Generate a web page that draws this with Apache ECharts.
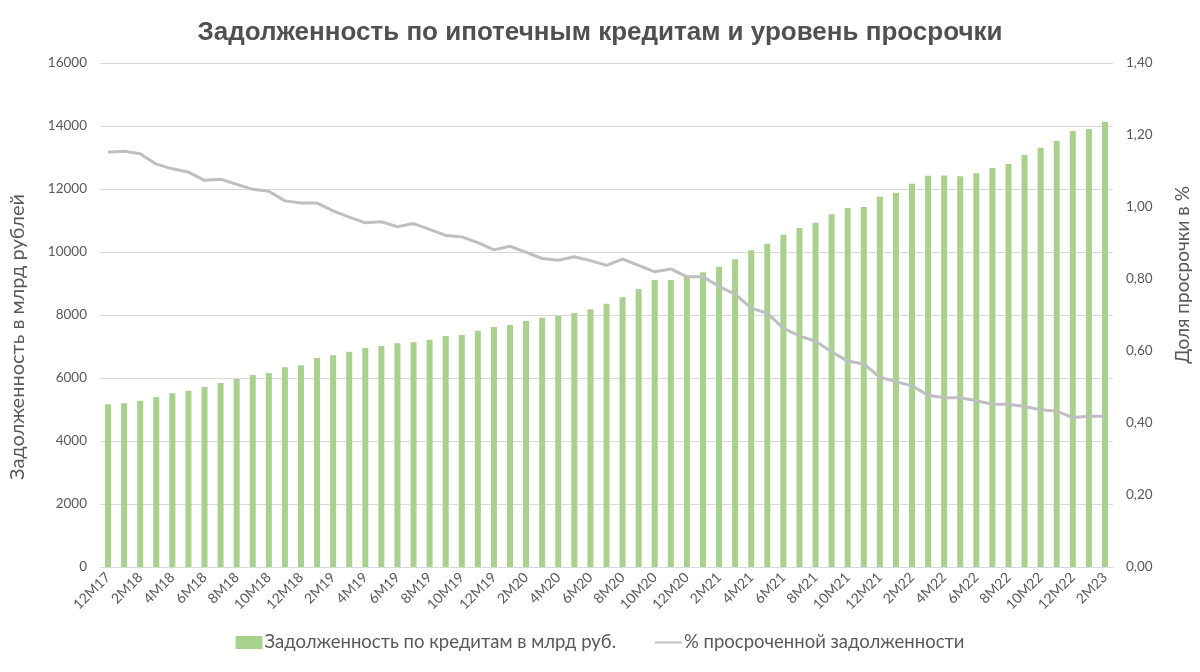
<!DOCTYPE html>
<html>
<head>
<meta charset="utf-8">
<script src="https://cdn.jsdelivr.net/npm/echarts@6/dist/echarts.min.js"></script>
<style>
  html, body { margin: 0; padding: 0; background: #fff; }
  #main { width: 1200px; height: 672px; }
</style>
</head>
<body>
<div id="main"></div>
<script>
// месяцы: 12M17 .. 2M23
const months = [
  '12M17',
  '1M18', '2M18', '3M18', '4M18', '5M18', '6M18', '7M18', '8M18', '9M18', '10M18', '11M18', '12M18',
  '1M19', '2M19', '3M19', '4M19', '5M19', '6M19', '7M19', '8M19', '9M19', '10M19', '11M19', '12M19',
  '1M20', '2M20', '3M20', '4M20', '5M20', '6M20', '7M20', '8M20', '9M20', '10M20', '11M20', '12M20',
  '1M21', '2M21', '3M21', '4M21', '5M21', '6M21', '7M21', '8M21', '9M21', '10M21', '11M21', '12M21',
  '1M22', '2M22', '3M22', '4M22', '5M22', '6M22', '7M22', '8M22', '9M22', '10M22', '11M22', '12M22',
  '1M23', '2M23'
]

// задолженность, млрд руб.
const debt = [
  5165,
  5196, 5280, 5397, 5513, 5598, 5714, 5841, 5968, 6095, 6159, 6339, 6402,
  6635, 6720, 6836, 6952, 7016, 7101, 7133, 7217, 7333, 7365, 7503, 7619,
  7683, 7810, 7915, 7979, 8063, 8180, 8360, 8561, 8825, 9111, 9111, 9217,
  9355, 9534, 9767, 10053, 10265, 10550, 10762, 10931, 11196, 11397, 11429, 11757,
  11873, 12169, 12423, 12430, 12405, 12497, 12667, 12794, 13079, 13312, 13524, 13841,
  13905, 14138
]

// доля просрочки, %
const overdue = [
  1.152,
  1.155, 1.148, 1.119, 1.106, 1.097, 1.074, 1.077, 1.063, 1.049, 1.044, 1.017, 1.011,
  1.011, 0.989, 0.972, 0.956, 0.959, 0.945, 0.954, 0.938, 0.921, 0.917, 0.901, 0.881,
  0.891, 0.874, 0.857, 0.852, 0.862, 0.851, 0.838, 0.855, 0.838, 0.820, 0.828, 0.806,
  0.806, 0.779, 0.758, 0.719, 0.705, 0.663, 0.642, 0.627, 0.598, 0.572, 0.564, 0.527,
  0.515, 0.503, 0.477, 0.470, 0.470, 0.462, 0.452, 0.452, 0.446, 0.437, 0.433, 0.415,
  0.419, 0.419
]

const txtColor = '#595959'
const font = 'Lato'

const myChart = echarts.init(document.getElementById('main'))
myChart.setOption({
  animation: false,
  title: {
    text: 'Задолженность по ипотечным кредитам и уровень просрочки',
    left: 'center',
    top: 15,
    textStyle: {
      fontFamily: 'Liberation Sans',
      fontSize: 26,
      fontWeight: 'bold',
      color: '#505050'
    }
  },
  legend: {
    bottom: 15,
    left: 'center',
    itemGap: 38,
    itemWidth: 27,
    itemHeight: 13,
    textStyle: { fontFamily: font, fontSize: 18.5, color: txtColor, padding: [0, 0, 0, -3] },
    data: [
      { name: 'Задолженность по кредитам в млрд руб.', icon: 'rect' },
      {
        name: '% просроченной задолженности',
        itemStyle: { color: 'rgba(0,0,0,0)', borderWidth: 0 }
      }
    ]
  },
  grid: {
    left: 93,
    right: 83,
    top: 63,
    bottom: 105
  },
  xAxis: {
    type: 'category',
    data: months,
    axisTick: { show: false },
    axisLine: { lineStyle: { color: '#d9d9d9' } },
    axisLabel: {
      interval: 1,
      rotate: 45,
      fontFamily: font,
      fontSize: 14,
      color: txtColor,
      margin: 8
    }
  },
  yAxis: [
    {
      type: 'value',
      min: 0,
      max: 16000,
      interval: 2000,
      name: 'Задолженность в млрд рублей',
      nameLocation: 'middle',
      nameGap: 72,
      nameTextStyle: { fontFamily: font, fontSize: 20, color: txtColor, padding: [0, 44, 0, 0] },
      axisLabel: { fontFamily: font, fontSize: 13.5, color: txtColor, margin: 13, formatter: v => String(v) },
      splitLine: { lineStyle: { color: '#d9d9d9' } }
    },
    {
      type: 'value',
      min: 0,
      max: 1.4,
      interval: 0.2,
      name: 'Доля просрочки в %',
      nameLocation: 'middle',
      nameRotate: 90,
      nameGap: 60,
      nameTextStyle: { fontFamily: font, fontSize: 19, color: txtColor, padding: [0, 0, 0, 80] },
      axisLabel: {
        fontFamily: font,
        fontSize: 13.5,
        color: txtColor,
        margin: 13,
        formatter: v => v.toFixed(2).replace('.', ',')
      },
      splitLine: { show: false }
    }
  ],
  series: [
    {
      name: 'Задолженность по кредитам в млрд руб.',
      type: 'bar',
      yAxisIndex: 0,
      barWidth: 6,
      itemStyle: { color: '#a9d18e' },
      data: debt
    },
    {
      name: '% просроченной задолженности',
      type: 'line',
      yAxisIndex: 1,
      symbol: 'none',
      lineStyle: { color: '#bfbfbf', width: 3 },
      itemStyle: { color: '#bfbfbf' },
      data: overdue
    }
  ]
})
</script>
</body>
</html>
